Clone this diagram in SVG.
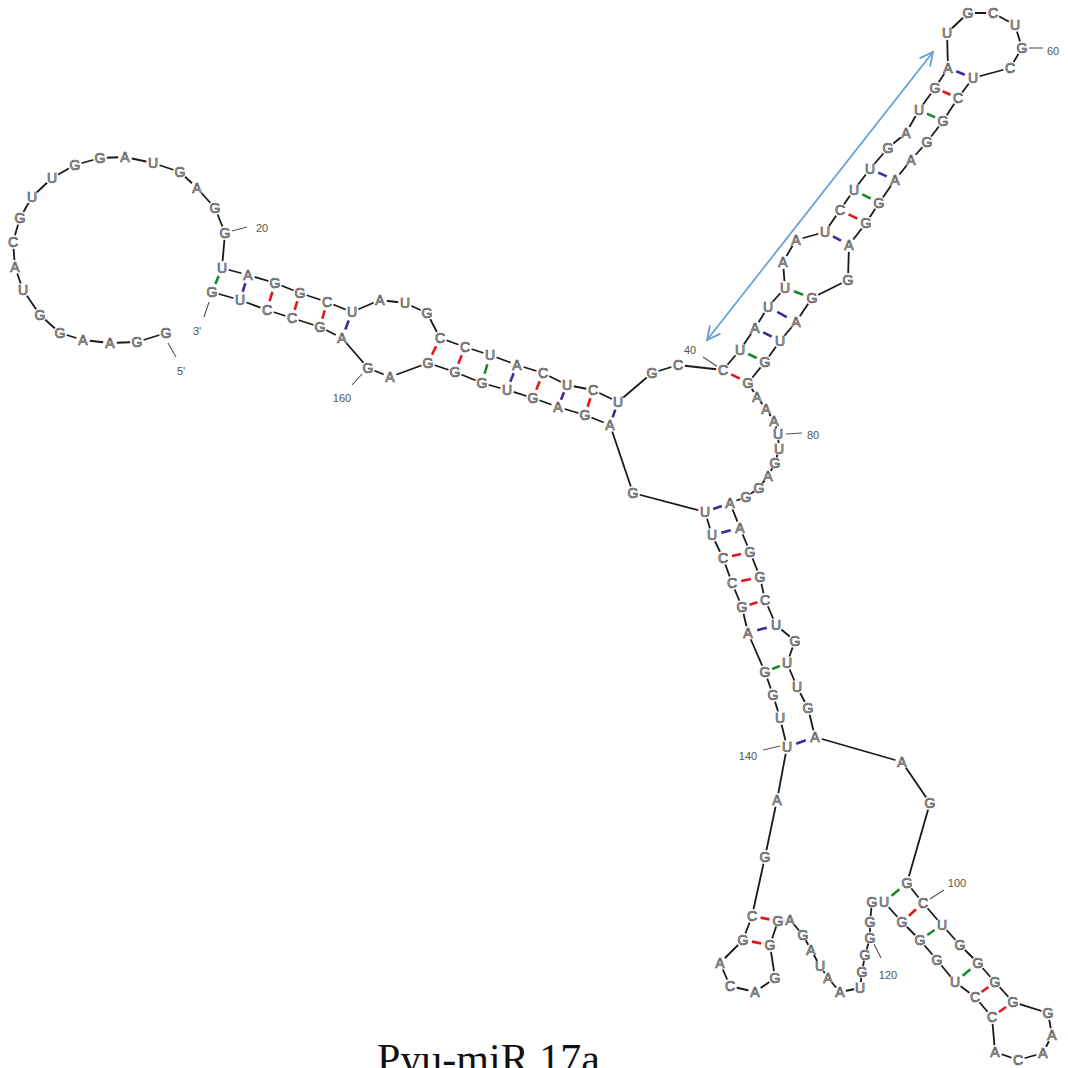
<svg xmlns="http://www.w3.org/2000/svg" width="1068" height="1068" viewBox="0 0 1068 1068">
<defs>
<style>
.bb{fill:none;stroke:#1a1a1a;stroke-width:1.8;stroke-linejoin:round}
.bp{stroke-width:2.6;stroke-dasharray:0 3.3 3.4 20}
.r{stroke:#e8141b}.g{stroke:#1a8a2a}.b{stroke:#3a2d9a}
.tk{stroke:#555;stroke-width:1.1}
.nt circle{fill:#fff}
.nt text{font-family:"Liberation Sans",Arial,sans-serif;font-size:14px;text-anchor:middle;dominant-baseline:central;fill:#d8d8d8;stroke:#3a3a3a;stroke-width:0.65}
.lb{font-family:"Liberation Sans",Arial,sans-serif;font-size:11px;fill:#555;text-anchor:middle;dominant-baseline:central}
.arr{stroke:#6a9fd8;stroke-width:1.8;fill:none}
</style>
<marker id="ah" viewBox="0 0 12 12" refX="11" refY="6" markerWidth="16" markerHeight="16" markerUnits="userSpaceOnUse" orient="auto-start-reverse">
<path d="M1,1 L11,6 L1,11" fill="none" stroke="#6a9fd8" stroke-width="1.4"/>
</marker>
</defs>
<rect width="1068" height="1068" fill="#fff"/>
<g id="connectors">
<polyline class="bb" points="166,333 137,342 110,343 83,340 60,333 40,315 23,290 15,267 13,242 20,218 32,197 52,178 75,165 100,158 125,157 153,163 180,172 197,188 215,208 225,233 222,268 248,275 275,283 300,293 327,302 352,312 380,300 405,303 427,313 440,338 465,347 490,355 517,365 543,373 567,385 593,390 618,402 652,373 678,365 723,370 740,350 755,328 768,307 785,288 783,262 796,240 825,232 840,210 854,190 870,169 888,148 906,133 919,110 935,88 948,68 947,33 968,13 993,13 1015,25 1022,48 1010,68 973,78 958,98 943,121 927,142 911,160 895,180 879,203 866,223 849,245 848,280 812,298 796,322 780,341 765,362 748,383 757,397 766,409 774,421 778,434 779,449 775,463 768,476 759,488 746,497 730,503 740,528 750,552 760,577 765,600 776,625 795,641 787,663 797,687 808,708 815,737 902,762 930,803 907,883 923,903 942,925 960,945 978,963 995,982 1013,1002 1048,1013 1052,1035 1043,1053 1018,1060 995,1052 992,1017 975,997 955,982 937,960 920,940 902,922 884,902 872,902 870,922 870,938 865,955 862,972 860,988 840,992 828,978 820,966 811,950 803,935 790,920 778,921 770,945 775,978 755,992 730,986 720,963 743,940 752,916 765,857 777,800 787,747 780,718 773,695 765,672 748,633 742,607 732,583 723,558 712,535 705,512 633,493 610,425 585,415 558,407 533,398 507,390 482,383 455,372 428,363 390,377 368,368 342,338 320,327 292,318 267,310 240,300 212,292"/>
<g id="pairs">
<line class="bp g" pathLength="10" x1="222" y1="268" x2="212" y2="292"/>
<line class="bp b" pathLength="10" x1="248" y1="275" x2="240" y2="300"/>
<line class="bp r" pathLength="10" x1="275" y1="283" x2="267" y2="310"/>
<line class="bp r" pathLength="10" x1="300" y1="293" x2="292" y2="318"/>
<line class="bp r" pathLength="10" x1="327" y1="302" x2="320" y2="327"/>
<line class="bp b" pathLength="10" x1="352" y1="312" x2="342" y2="338"/>
<line class="bp r" pathLength="10" x1="440" y1="338" x2="428" y2="363"/>
<line class="bp r" pathLength="10" x1="465" y1="347" x2="455" y2="372"/>
<line class="bp g" pathLength="10" x1="490" y1="355" x2="482" y2="383"/>
<line class="bp b" pathLength="10" x1="517" y1="365" x2="507" y2="390"/>
<line class="bp r" pathLength="10" x1="543" y1="373" x2="533" y2="398"/>
<line class="bp b" pathLength="10" x1="567" y1="385" x2="558" y2="407"/>
<line class="bp r" pathLength="10" x1="593" y1="390" x2="585" y2="415"/>
<line class="bp b" pathLength="10" x1="618" y1="402" x2="610" y2="425"/>
<line class="bp r" pathLength="10" x1="723" y1="370" x2="748" y2="383"/>
<line class="bp g" pathLength="10" x1="740" y1="350" x2="765" y2="362"/>
<line class="bp b" pathLength="10" x1="755" y1="328" x2="780" y2="341"/>
<line class="bp b" pathLength="10" x1="768" y1="307" x2="796" y2="322"/>
<line class="bp g" pathLength="10" x1="785" y1="288" x2="812" y2="298"/>
<line class="bp b" pathLength="10" x1="825" y1="232" x2="849" y2="245"/>
<line class="bp r" pathLength="10" x1="840" y1="210" x2="866" y2="223"/>
<line class="bp g" pathLength="10" x1="854" y1="190" x2="879" y2="203"/>
<line class="bp b" pathLength="10" x1="870" y1="169" x2="895" y2="180"/>
<line class="bp g" pathLength="10" x1="919" y1="110" x2="943" y2="121"/>
<line class="bp r" pathLength="10" x1="935" y1="88" x2="958" y2="98"/>
<line class="bp b" pathLength="10" x1="948" y1="68" x2="973" y2="78"/>
<line class="bp b" pathLength="10" x1="730" y1="503" x2="705" y2="512"/>
<line class="bp b" pathLength="10" x1="740" y1="528" x2="712" y2="535"/>
<line class="bp r" pathLength="10" x1="750" y1="552" x2="723" y2="558"/>
<line class="bp r" pathLength="10" x1="760" y1="577" x2="732" y2="583"/>
<line class="bp r" pathLength="10" x1="765" y1="600" x2="742" y2="607"/>
<line class="bp b" pathLength="10" x1="776" y1="625" x2="748" y2="633"/>
<line class="bp g" pathLength="10" x1="787" y1="663" x2="765" y2="672"/>
<line class="bp b" pathLength="10" x1="815" y1="737" x2="787" y2="747"/>
<line class="bp g" pathLength="10" x1="907" y1="883" x2="884" y2="902"/>
<line class="bp r" pathLength="10" x1="923" y1="903" x2="902" y2="922"/>
<line class="bp g" pathLength="10" x1="942" y1="925" x2="920" y2="940"/>
<line class="bp g" pathLength="10" x1="978" y1="963" x2="955" y2="982"/>
<line class="bp r" pathLength="10" x1="995" y1="982" x2="975" y2="997"/>
<line class="bp r" pathLength="10" x1="1013" y1="1002" x2="992" y2="1017"/>
<line class="bp r" pathLength="10" x1="778" y1="921" x2="752" y2="916"/>
<line class="bp r" pathLength="10" x1="770" y1="945" x2="743" y2="940"/>
</g>
<g id="ticks">
<line class="tk" x1="168" y1="343" x2="176" y2="357"/>
<line class="tk" x1="232" y1="231" x2="247" y2="227"/>
<line class="tk" x1="703" y1="357" x2="718" y2="367"/>
<line class="tk" x1="1029" y1="48" x2="1043" y2="48"/>
<line class="tk" x1="786" y1="434" x2="802" y2="433"/>
<line class="tk" x1="209" y1="302" x2="204" y2="317"/>
<line class="tk" x1="362" y1="374" x2="352" y2="385"/>
<line class="tk" x1="780" y1="746" x2="763" y2="750"/>
<line class="tk" x1="930" y1="899" x2="944" y2="890"/>
<line class="tk" x1="874" y1="944" x2="881" y2="958"/>
</g>
<line id="arrow" class="arr" x1="707" y1="340" x2="933" y2="52" marker-start="url(#ah)" marker-end="url(#ah)"/>
</g>
<g id="labels">
<text class="lb" x="181" y="371">5'</text>
<text class="lb" x="262" y="228">20</text>
<text class="lb" x="690" y="350">40</text>
<text class="lb" x="1053" y="51">60</text>
<text class="lb" x="813" y="435">80</text>
<text class="lb" x="197" y="331">3'</text>
<text class="lb" x="342" y="398">160</text>
<text class="lb" x="748" y="756">140</text>
<text class="lb" x="957" y="883">100</text>
<text class="lb" x="888" y="975">120</text>
</g>
<g id="nucleotides" class="nt">
<g id="n1" transform="translate(166,333)"><circle r="7"/><text>G</text></g>
<g id="n2" transform="translate(137,342)"><circle r="7"/><text>G</text></g>
<g id="n3" transform="translate(110,343)"><circle r="7"/><text>A</text></g>
<g id="n4" transform="translate(83,340)"><circle r="7"/><text>A</text></g>
<g id="n5" transform="translate(60,333)"><circle r="7"/><text>G</text></g>
<g id="n6" transform="translate(40,315)"><circle r="7"/><text>G</text></g>
<g id="n7" transform="translate(23,290)"><circle r="7"/><text>U</text></g>
<g id="n8" transform="translate(15,267)"><circle r="7"/><text>A</text></g>
<g id="n9" transform="translate(13,242)"><circle r="7"/><text>C</text></g>
<g id="n10" transform="translate(20,218)"><circle r="7"/><text>G</text></g>
<g id="n11" transform="translate(32,197)"><circle r="7"/><text>U</text></g>
<g id="n12" transform="translate(52,178)"><circle r="7"/><text>U</text></g>
<g id="n13" transform="translate(75,165)"><circle r="7"/><text>G</text></g>
<g id="n14" transform="translate(100,158)"><circle r="7"/><text>G</text></g>
<g id="n15" transform="translate(125,157)"><circle r="7"/><text>A</text></g>
<g id="n16" transform="translate(153,163)"><circle r="7"/><text>U</text></g>
<g id="n17" transform="translate(180,172)"><circle r="7"/><text>G</text></g>
<g id="n18" transform="translate(197,188)"><circle r="7"/><text>A</text></g>
<g id="n19" transform="translate(215,208)"><circle r="7"/><text>G</text></g>
<g id="n20" transform="translate(225,233)"><circle r="7"/><text>G</text></g>
<g id="n21" transform="translate(222,268)"><circle r="7"/><text>U</text></g>
<g id="n22" transform="translate(248,275)"><circle r="7"/><text>A</text></g>
<g id="n23" transform="translate(275,283)"><circle r="7"/><text>G</text></g>
<g id="n24" transform="translate(300,293)"><circle r="7"/><text>G</text></g>
<g id="n25" transform="translate(327,302)"><circle r="7"/><text>C</text></g>
<g id="n26" transform="translate(352,312)"><circle r="7"/><text>U</text></g>
<g id="n27" transform="translate(380,300)"><circle r="7"/><text>A</text></g>
<g id="n28" transform="translate(405,303)"><circle r="7"/><text>U</text></g>
<g id="n29" transform="translate(427,313)"><circle r="7"/><text>G</text></g>
<g id="n30" transform="translate(440,338)"><circle r="7"/><text>C</text></g>
<g id="n31" transform="translate(465,347)"><circle r="7"/><text>C</text></g>
<g id="n32" transform="translate(490,355)"><circle r="7"/><text>U</text></g>
<g id="n33" transform="translate(517,365)"><circle r="7"/><text>A</text></g>
<g id="n34" transform="translate(543,373)"><circle r="7"/><text>C</text></g>
<g id="n35" transform="translate(567,385)"><circle r="7"/><text>U</text></g>
<g id="n36" transform="translate(593,390)"><circle r="7"/><text>C</text></g>
<g id="n37" transform="translate(618,402)"><circle r="7"/><text>U</text></g>
<g id="n38" transform="translate(652,373)"><circle r="7"/><text>G</text></g>
<g id="n39" transform="translate(678,365)"><circle r="7"/><text>C</text></g>
<g id="n40" transform="translate(723,370)"><circle r="7"/><text>C</text></g>
<g id="n41" transform="translate(740,350)"><circle r="7"/><text>U</text></g>
<g id="n42" transform="translate(755,328)"><circle r="7"/><text>A</text></g>
<g id="n43" transform="translate(768,307)"><circle r="7"/><text>U</text></g>
<g id="n44" transform="translate(785,288)"><circle r="7"/><text>U</text></g>
<g id="n45" transform="translate(783,262)"><circle r="7"/><text>A</text></g>
<g id="n46" transform="translate(796,240)"><circle r="7"/><text>A</text></g>
<g id="n47" transform="translate(825,232)"><circle r="7"/><text>U</text></g>
<g id="n48" transform="translate(840,210)"><circle r="7"/><text>C</text></g>
<g id="n49" transform="translate(854,190)"><circle r="7"/><text>U</text></g>
<g id="n50" transform="translate(870,169)"><circle r="7"/><text>U</text></g>
<g id="n51" transform="translate(888,148)"><circle r="7"/><text>G</text></g>
<g id="n52" transform="translate(906,133)"><circle r="7"/><text>A</text></g>
<g id="n53" transform="translate(919,110)"><circle r="7"/><text>U</text></g>
<g id="n54" transform="translate(935,88)"><circle r="7"/><text>G</text></g>
<g id="n55" transform="translate(948,68)"><circle r="7"/><text>A</text></g>
<g id="n56" transform="translate(947,33)"><circle r="7"/><text>U</text></g>
<g id="n57" transform="translate(968,13)"><circle r="7"/><text>G</text></g>
<g id="n58" transform="translate(993,13)"><circle r="7"/><text>C</text></g>
<g id="n59" transform="translate(1015,25)"><circle r="7"/><text>U</text></g>
<g id="n60" transform="translate(1022,48)"><circle r="7"/><text>G</text></g>
<g id="n61" transform="translate(1010,68)"><circle r="7"/><text>C</text></g>
<g id="n62" transform="translate(973,78)"><circle r="7"/><text>U</text></g>
<g id="n63" transform="translate(958,98)"><circle r="7"/><text>C</text></g>
<g id="n64" transform="translate(943,121)"><circle r="7"/><text>G</text></g>
<g id="n65" transform="translate(927,142)"><circle r="7"/><text>G</text></g>
<g id="n66" transform="translate(911,160)"><circle r="7"/><text>A</text></g>
<g id="n67" transform="translate(895,180)"><circle r="7"/><text>A</text></g>
<g id="n68" transform="translate(879,203)"><circle r="7"/><text>G</text></g>
<g id="n69" transform="translate(866,223)"><circle r="7"/><text>G</text></g>
<g id="n70" transform="translate(849,245)"><circle r="7"/><text>A</text></g>
<g id="n71" transform="translate(848,280)"><circle r="7"/><text>G</text></g>
<g id="n72" transform="translate(812,298)"><circle r="7"/><text>G</text></g>
<g id="n73" transform="translate(796,322)"><circle r="7"/><text>A</text></g>
<g id="n74" transform="translate(780,341)"><circle r="7"/><text>U</text></g>
<g id="n75" transform="translate(765,362)"><circle r="7"/><text>G</text></g>
<g id="n76" transform="translate(748,383)"><circle r="7"/><text>G</text></g>
<g id="n77" transform="translate(757,397)"><circle r="6"/><text>A</text></g>
<g id="n78" transform="translate(766,409)"><circle r="6"/><text>A</text></g>
<g id="n79" transform="translate(774,421)"><circle r="6"/><text>A</text></g>
<g id="n80" transform="translate(778,434)"><circle r="6"/><text>U</text></g>
<g id="n81" transform="translate(779,449)"><circle r="6"/><text>U</text></g>
<g id="n82" transform="translate(775,463)"><circle r="6"/><text>G</text></g>
<g id="n83" transform="translate(768,476)"><circle r="6"/><text>A</text></g>
<g id="n84" transform="translate(759,488)"><circle r="6"/><text>G</text></g>
<g id="n85" transform="translate(746,497)"><circle r="6"/><text>G</text></g>
<g id="n86" transform="translate(730,503)"><circle r="7"/><text>A</text></g>
<g id="n87" transform="translate(740,528)"><circle r="7"/><text>A</text></g>
<g id="n88" transform="translate(750,552)"><circle r="7"/><text>G</text></g>
<g id="n89" transform="translate(760,577)"><circle r="7"/><text>G</text></g>
<g id="n90" transform="translate(765,600)"><circle r="7"/><text>C</text></g>
<g id="n91" transform="translate(776,625)"><circle r="7"/><text>U</text></g>
<g id="n92" transform="translate(795,641)"><circle r="7"/><text>G</text></g>
<g id="n93" transform="translate(787,663)"><circle r="7"/><text>U</text></g>
<g id="n94" transform="translate(797,687)"><circle r="7"/><text>U</text></g>
<g id="n95" transform="translate(808,708)"><circle r="7"/><text>G</text></g>
<g id="n96" transform="translate(815,737)"><circle r="7"/><text>A</text></g>
<g id="n97" transform="translate(902,762)"><circle r="7"/><text>A</text></g>
<g id="n98" transform="translate(930,803)"><circle r="7"/><text>G</text></g>
<g id="n99" transform="translate(907,883)"><circle r="7"/><text>G</text></g>
<g id="n100" transform="translate(923,903)"><circle r="7"/><text>C</text></g>
<g id="n101" transform="translate(942,925)"><circle r="7"/><text>U</text></g>
<g id="n102" transform="translate(960,945)"><circle r="7"/><text>G</text></g>
<g id="n103" transform="translate(978,963)"><circle r="7"/><text>G</text></g>
<g id="n104" transform="translate(995,982)"><circle r="7"/><text>G</text></g>
<g id="n105" transform="translate(1013,1002)"><circle r="7"/><text>G</text></g>
<g id="n106" transform="translate(1048,1013)"><circle r="7"/><text>G</text></g>
<g id="n107" transform="translate(1052,1035)"><circle r="7"/><text>A</text></g>
<g id="n108" transform="translate(1043,1053)"><circle r="7"/><text>A</text></g>
<g id="n109" transform="translate(1018,1060)"><circle r="7"/><text>C</text></g>
<g id="n110" transform="translate(995,1052)"><circle r="7"/><text>A</text></g>
<g id="n111" transform="translate(992,1017)"><circle r="7"/><text>C</text></g>
<g id="n112" transform="translate(975,997)"><circle r="7"/><text>C</text></g>
<g id="n113" transform="translate(955,982)"><circle r="7"/><text>U</text></g>
<g id="n114" transform="translate(937,960)"><circle r="7"/><text>G</text></g>
<g id="n115" transform="translate(920,940)"><circle r="7"/><text>G</text></g>
<g id="n116" transform="translate(902,922)"><circle r="7"/><text>G</text></g>
<g id="n117" transform="translate(884,902)"><circle r="7"/><text>U</text></g>
<g id="n118" transform="translate(872,902)"><circle r="6"/><text>G</text></g>
<g id="n119" transform="translate(870,922)"><circle r="6"/><text>G</text></g>
<g id="n120" transform="translate(870,938)"><circle r="6"/><text>G</text></g>
<g id="n121" transform="translate(865,955)"><circle r="6"/><text>G</text></g>
<g id="n122" transform="translate(862,972)"><circle r="6"/><text>G</text></g>
<g id="n123" transform="translate(860,988)"><circle r="6"/><text>U</text></g>
<g id="n124" transform="translate(840,992)"><circle r="6"/><text>A</text></g>
<g id="n125" transform="translate(828,978)"><circle r="6"/><text>A</text></g>
<g id="n126" transform="translate(820,966)"><circle r="6"/><text>U</text></g>
<g id="n127" transform="translate(811,950)"><circle r="6"/><text>A</text></g>
<g id="n128" transform="translate(803,935)"><circle r="6"/><text>G</text></g>
<g id="n129" transform="translate(790,920)"><circle r="6"/><text>A</text></g>
<g id="n130" transform="translate(778,921)"><circle r="6"/><text>G</text></g>
<g id="n131" transform="translate(770,945)"><circle r="7"/><text>G</text></g>
<g id="n132" transform="translate(775,978)"><circle r="7"/><text>G</text></g>
<g id="n133" transform="translate(755,992)"><circle r="7"/><text>A</text></g>
<g id="n134" transform="translate(730,986)"><circle r="7"/><text>C</text></g>
<g id="n135" transform="translate(720,963)"><circle r="7"/><text>A</text></g>
<g id="n136" transform="translate(743,940)"><circle r="7"/><text>G</text></g>
<g id="n137" transform="translate(752,916)"><circle r="7"/><text>C</text></g>
<g id="n138" transform="translate(765,857)"><circle r="7"/><text>G</text></g>
<g id="n139" transform="translate(777,800)"><circle r="7"/><text>A</text></g>
<g id="n140" transform="translate(787,747)"><circle r="7"/><text>U</text></g>
<g id="n141" transform="translate(780,718)"><circle r="7"/><text>U</text></g>
<g id="n142" transform="translate(773,695)"><circle r="7"/><text>G</text></g>
<g id="n143" transform="translate(765,672)"><circle r="7"/><text>G</text></g>
<g id="n144" transform="translate(748,633)"><circle r="7"/><text>A</text></g>
<g id="n145" transform="translate(742,607)"><circle r="7"/><text>G</text></g>
<g id="n146" transform="translate(732,583)"><circle r="7"/><text>C</text></g>
<g id="n147" transform="translate(723,558)"><circle r="7"/><text>C</text></g>
<g id="n148" transform="translate(712,535)"><circle r="7"/><text>U</text></g>
<g id="n149" transform="translate(705,512)"><circle r="7"/><text>U</text></g>
<g id="n150" transform="translate(633,493)"><circle r="7"/><text>G</text></g>
<g id="n151" transform="translate(610,425)"><circle r="7"/><text>A</text></g>
<g id="n152" transform="translate(585,415)"><circle r="7"/><text>G</text></g>
<g id="n153" transform="translate(558,407)"><circle r="7"/><text>A</text></g>
<g id="n154" transform="translate(533,398)"><circle r="7"/><text>G</text></g>
<g id="n155" transform="translate(507,390)"><circle r="7"/><text>U</text></g>
<g id="n156" transform="translate(482,383)"><circle r="7"/><text>G</text></g>
<g id="n157" transform="translate(455,372)"><circle r="7"/><text>G</text></g>
<g id="n158" transform="translate(428,363)"><circle r="7"/><text>G</text></g>
<g id="n159" transform="translate(390,377)"><circle r="7"/><text>A</text></g>
<g id="n160" transform="translate(368,368)"><circle r="7"/><text>G</text></g>
<g id="n161" transform="translate(342,338)"><circle r="7"/><text>A</text></g>
<g id="n162" transform="translate(320,327)"><circle r="7"/><text>G</text></g>
<g id="n163" transform="translate(292,318)"><circle r="7"/><text>C</text></g>
<g id="n164" transform="translate(267,310)"><circle r="7"/><text>C</text></g>
<g id="n165" transform="translate(240,300)"><circle r="7"/><text>U</text></g>
<g id="n166" transform="translate(212,292)"><circle r="7"/><text>G</text></g>
</g>
<text id="title" x="377" y="1073" style="font-family:'Liberation Serif','Times New Roman',serif;font-size:42px;fill:#111">Pyu-miR 17a</text>
</svg>
